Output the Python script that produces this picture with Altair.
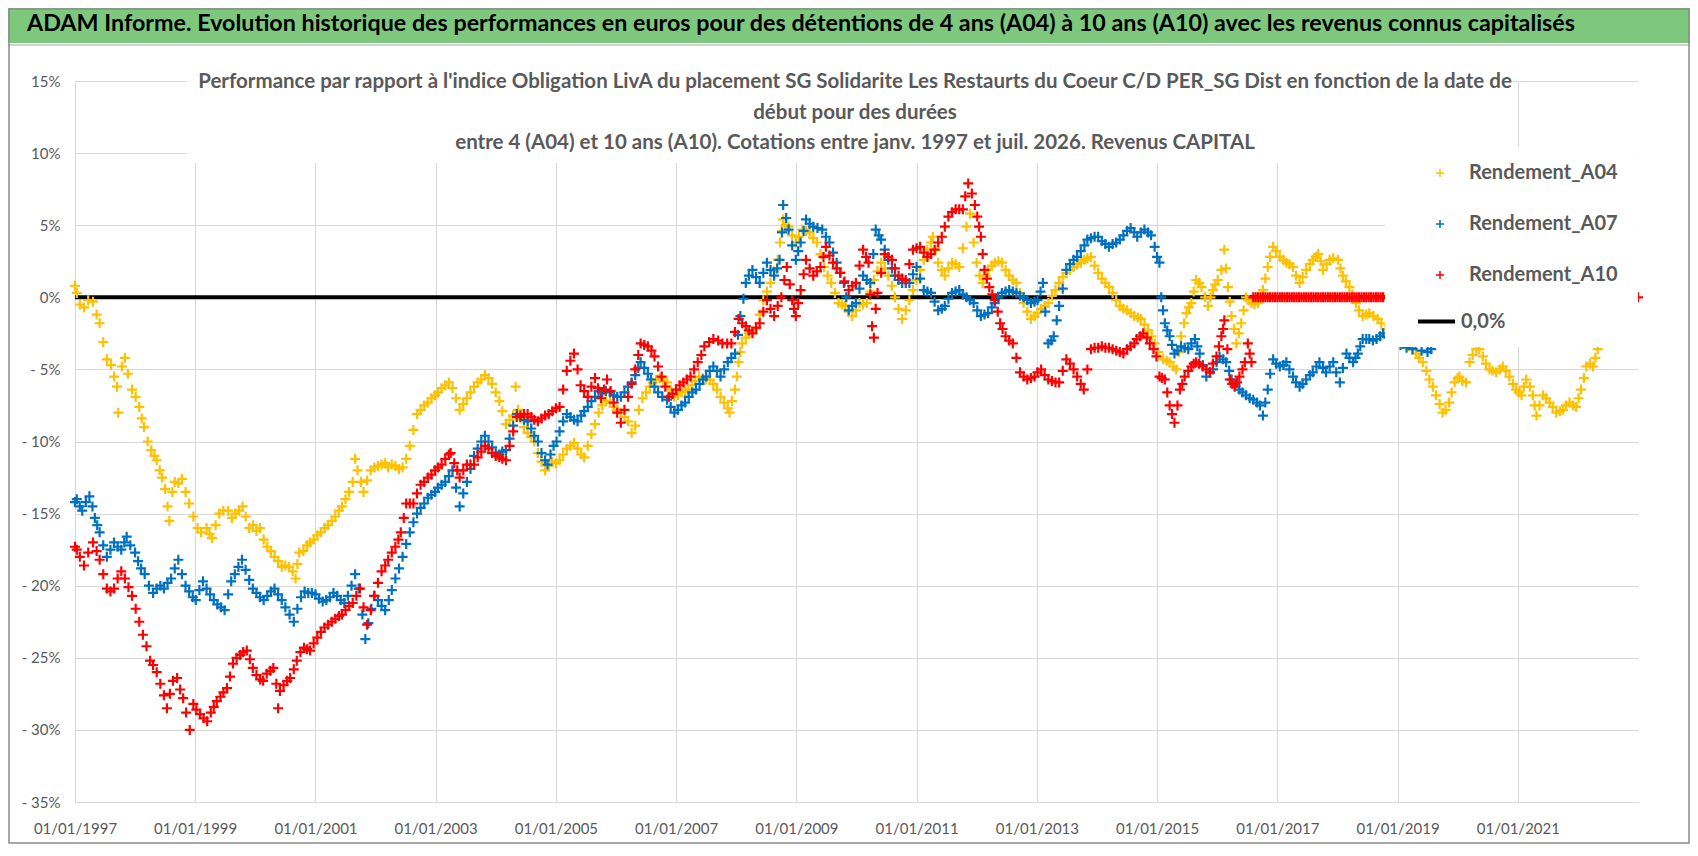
import altair as alt
import pandas as pd

FONT = "Lato"
GREY = "#595959"
GRID = "#D9D9D9"
PLUS = "M-1,0H1M0,-1V1"

banner_text = ("ADAM Informe. Evolution historique des performances en euros pour des détentions "
               "de 4 ans (A04) à 10 ans (A10) avec les revenus connus capitalisés")
chart_title = [
    "Performance par rapport à l'indice Obligation LivA  du placement SG Solidarite Les Restaurts du Coeur C/D PER_SG Dist en fonction de la date de",
    "début pour des durées",
    "entre 4 (A04) et 10 ans (A10). Cotations entre janv. 1997 et juil. 2026. Revenus  CAPITAL",
]

series_names = ["Rendement_A04", "Rendement_A07", "Rendement_A10"]
series_colors = ["#FFC000", "#0070C0", "#FF0000"]
zero_name = "0,0%"

x_tick_years = [1997, 1999, 2001, 2003, 2005, 2007, 2009, 2011, 2013, 2015, 2017, 2019, 2021]
y_ticks = [-35, -30, -25, -20, -15, -10, -5, 0, 5, 10, 15]

# (decimal year, performance in %)
a04 = [
    (1997.00, 0.8), (1997.03, 0.3), (1997.08, -0.5), (1997.15, -0.7), (1997.22, -0.2), (1997.30, -0.3), (1997.36, -1.2), (1997.41, -1.8), (1997.47, -3.1), (1997.53, -4.3), (1997.60, -4.7), (1997.65, -5.5), (1997.70, -6.2), (1997.72, -8.0), (1997.78, -4.8), (1997.83, -4.2), (1997.88, -5.3), (1997.95, -6.4),
    (1998.01, -6.9), (1998.07, -7.6), (1998.11, -8.4), (1998.15, -9.0), (1998.21, -10.0), (1998.27, -10.6), (1998.32, -11.0), (1998.36, -11.3), (1998.41, -12.0), (1998.45, -12.5), (1998.50, -13.3), (1998.54, -14.5), (1998.57, -15.5), (1998.62, -13.5), (1998.66, -12.8), (1998.72, -12.9), (1998.78, -12.6), (1998.84, -13.5), (1998.90, -14.3), (1998.97, -15.2),
    (1999.04, -16.0), (1999.10, -16.3), (1999.19, -16.0), (1999.24, -16.4), (1999.28, -16.7), (1999.34, -15.8), (1999.40, -15.0), (1999.47, -14.8), (1999.55, -14.8), (1999.61, -15.3), (1999.67, -15.0), (1999.73, -14.8), (1999.79, -14.5), (1999.84, -15.2), (1999.90, -16.0), (1999.96, -15.8),
    (2000.02, -16.2), (2000.08, -16.0), (2000.14, -16.8), (2000.20, -17.3), (2000.26, -17.6), (2000.32, -18.0), (2000.38, -18.3), (2000.44, -18.7), (2000.50, -18.6), (2000.56, -18.7), (2000.62, -19.0), (2000.67, -19.5), (2000.70, -18.5), (2000.73, -17.7), (2000.80, -17.6), (2000.86, -17.2), (2000.91, -17.0), (2000.97, -16.8),
    (2001.03, -16.5), (2001.09, -16.3), (2001.15, -16.0), (2001.21, -15.8), (2001.27, -15.5), (2001.33, -15.2), (2001.39, -14.8), (2001.44, -14.5), (2001.50, -14.0), (2001.56, -13.5), (2001.62, -12.8), (2001.66, -11.2), (2001.70, -12.0), (2001.76, -12.8), (2001.80, -13.5), (2001.86, -12.7), (2001.92, -12.0), (2001.98, -11.8),
    (2002.04, -11.7), (2002.10, -11.6), (2002.16, -11.5), (2002.21, -11.8), (2002.27, -11.6), (2002.33, -11.7), (2002.39, -11.9), (2002.45, -11.8), (2002.51, -11.2), (2002.57, -10.3), (2002.63, -9.2), (2002.69, -8.1), (2002.75, -7.8), (2002.81, -7.5), (2002.87, -7.3), (2002.93, -7.0), (2002.99, -6.8),
    (2003.04, -6.6), (2003.10, -6.3), (2003.16, -6.1), (2003.22, -5.9), (2003.28, -6.3), (2003.34, -7.0), (2003.40, -7.8), (2003.46, -7.4), (2003.52, -7.0), (2003.58, -6.6), (2003.64, -6.2), (2003.70, -5.9), (2003.76, -5.7), (2003.82, -5.4), (2003.88, -5.6), (2003.94, -6.0),
    (2004.00, -6.6), (2004.06, -7.2), (2004.11, -7.9), (2004.17, -8.8), (2004.23, -8.5), (2004.29, -8.2), (2004.33, -6.2), (2004.37, -7.8), (2004.41, -8.4), (2004.47, -9.0), (2004.53, -9.4), (2004.59, -9.7), (2004.64, -10.0), (2004.70, -10.8), (2004.76, -11.4), (2004.82, -12.0), (2004.88, -11.7), (2004.94, -11.4),
    (2005.00, -11.5), (2005.06, -11.3), (2005.12, -10.9), (2005.18, -10.5), (2005.24, -10.3), (2005.30, -10.1), (2005.36, -10.5), (2005.42, -10.9), (2005.47, -11.1), (2005.53, -10.3), (2005.59, -9.5), (2005.65, -8.8), (2005.71, -8.0), (2005.77, -7.5), (2005.83, -7.2), (2005.90, -7.3), (2005.96, -7.6),
    (2006.02, -7.8), (2006.08, -8.0), (2006.14, -8.3), (2006.20, -8.6), (2006.26, -9.4), (2006.32, -8.9), (2006.38, -7.8), (2006.44, -7.0), (2006.50, -6.6), (2006.56, -6.2), (2006.61, -5.9), (2006.67, -5.7), (2006.73, -5.6), (2006.79, -5.8), (2006.85, -5.9), (2006.91, -6.4), (2006.97, -6.9),
    (2007.03, -6.8), (2007.09, -6.6), (2007.15, -6.5), (2007.20, -6.4), (2007.26, -6.1), (2007.32, -5.8), (2007.38, -5.5), (2007.44, -5.6), (2007.50, -5.7), (2007.56, -5.7), (2007.62, -6.0), (2007.68, -6.4), (2007.74, -6.9), (2007.80, -7.3), (2007.86, -7.7), (2007.89, -8.0), (2007.93, -7.2), (2007.98, -6.4),
    (2008.01, -5.5), (2008.04, -4.5), (2008.07, -3.8), (2008.10, -3.2), (2008.16, -2.8), (2008.21, -2.5), (2008.27, -2.4), (2008.33, -2.2), (2008.39, -1.2), (2008.45, -0.2), (2008.51, 0.4), (2008.57, 1.0), (2008.63, 1.8), (2008.69, 2.6), (2008.73, 3.8), (2008.76, 4.6), (2008.78, 5.4), (2008.82, 5.0), (2008.87, 4.9), (2008.93, 4.3), (2008.99, 3.8),
    (2009.04, 4.2), (2009.10, 4.7), (2009.16, 4.6), (2009.22, 4.5), (2009.28, 4.1), (2009.34, 3.8), (2009.40, 3.0), (2009.46, 2.1), (2009.52, 1.5), (2009.58, 1.0), (2009.64, 0.3), (2009.70, -0.4), (2009.76, -0.5), (2009.81, -0.6), (2009.87, -1.0), (2009.93, -1.3), (2009.99, -0.9),
    (2010.05, -0.4), (2010.11, -0.5), (2010.17, -0.4), (2010.23, 0.4), (2010.29, 1.2), (2010.35, 1.8), (2010.41, 2.4), (2010.47, 2.0), (2010.53, 1.5), (2010.59, 0.8), (2010.64, 0.0), (2010.70, -0.8), (2010.76, -1.5), (2010.82, -0.9), (2010.88, -0.2), (2010.94, 0.5),
    (2011.00, 1.2), (2011.06, 1.9), (2011.12, 2.6), (2011.18, 3.3), (2011.24, 3.8), (2011.27, 4.2), (2011.32, 3.3), (2011.36, 2.4), (2011.42, 1.9), (2011.47, 1.5), (2011.53, 2.0), (2011.59, 2.4), (2011.65, 2.3), (2011.71, 2.1), (2011.77, 3.4), (2011.83, 4.9), (2011.89, 5.8), (2011.95, 3.8),
    (2012.00, 2.4), (2012.05, 1.5), (2012.10, 1.0), (2012.15, 1.5), (2012.19, 1.9), (2012.25, 2.2), (2012.30, 2.4), (2012.36, 2.5), (2012.42, 2.4), (2012.48, 1.9), (2012.54, 1.5), (2012.60, 1.2), (2012.66, 1.0), (2012.72, 0.3), (2012.78, -0.4), (2012.84, -1.0), (2012.90, -1.5), (2012.96, -1.3),
    (2013.01, -1.1), (2013.07, -0.8), (2013.13, -0.6), (2013.19, -0.4), (2013.25, 0.1), (2013.31, 0.5), (2013.37, 1.0), (2013.43, 1.4), (2013.49, 1.7), (2013.55, 1.9), (2013.61, 2.1), (2013.67, 2.3), (2013.73, 2.4), (2013.79, 2.6), (2013.84, 2.7), (2013.90, 2.8), (2013.96, 2.2),
    (2014.02, 1.7), (2014.08, 1.3), (2014.14, 1.0), (2014.20, 0.7), (2014.26, 0.3), (2014.32, -0.2), (2014.38, -0.6), (2014.44, -0.8), (2014.50, -0.9), (2014.56, -1.1), (2014.62, -1.3), (2014.68, -1.4), (2014.73, -1.5), (2014.79, -1.9), (2014.85, -2.3), (2014.91, -2.7), (2014.96, -3.2),
    (2015.02, -3.8), (2015.10, -4.3), (2015.16, -4.4), (2015.21, -4.5), (2015.27, -4.8), (2015.32, -5.0), (2015.36, -3.8), (2015.40, -2.7), (2015.45, -1.8), (2015.49, -1.1), (2015.53, -0.7), (2015.57, -0.4), (2015.61, 0.4), (2015.65, 1.2), (2015.70, 1.0), (2015.74, 0.7), (2015.80, 0.0), (2015.85, -0.6), (2015.89, 0.0), (2015.93, 0.5), (2015.97, 0.9),
    (2016.01, 1.2), (2016.07, 1.9), (2016.12, 3.3), (2016.15, 2.0), (2016.18, 0.7), (2016.21, -0.3), (2016.24, -1.3), (2016.28, -2.2), (2016.32, -3.2), (2016.36, -2.5), (2016.40, -1.8), (2016.44, -0.9), (2016.48, 0.0), (2016.52, -0.2), (2016.57, -0.4), (2016.62, -0.5), (2016.68, -0.4), (2016.72, 0.0), (2016.76, 0.5), (2016.80, 1.3), (2016.84, 2.1), (2016.88, 2.8), (2016.93, 3.5), (2016.98, 3.2),
    (2017.04, 2.8), (2017.10, 2.6), (2017.15, 2.4), (2017.20, 2.3), (2017.26, 2.1), (2017.31, 1.5), (2017.37, 1.0), (2017.42, 1.4), (2017.48, 1.9), (2017.54, 2.3), (2017.59, 2.6), (2017.64, 2.8), (2017.68, 3.0), (2017.72, 2.5), (2017.76, 1.9), (2017.82, 2.3), (2017.87, 2.6), (2017.93, 2.7),
    (2018.01, 2.6), (2018.05, 2.0), (2018.09, 1.5), (2018.14, 1.1), (2018.20, 0.7), (2018.25, 0.2), (2018.31, -0.4), (2018.36, -0.9), (2018.42, -1.3), (2018.48, -1.2), (2018.53, -1.1), (2018.60, -1.3), (2018.67, -1.5), (2018.73, -1.8), (2018.80, -2.2), (2018.90, -2.6),
    (2019.00, -2.9), (2019.10, -3.2), (2019.18, -3.4), (2019.25, -3.6), (2019.31, -3.9), (2019.36, -4.2), (2019.42, -4.5), (2019.48, -5.1), (2019.53, -5.7), (2019.59, -6.2), (2019.64, -6.8), (2019.70, -7.4), (2019.75, -8.0), (2019.80, -7.8), (2019.86, -7.3), (2019.90, -6.6), (2019.95, -5.9),
    (2020.00, -5.6), (2020.03, -5.5), (2020.08, -5.8), (2020.14, -5.9), (2020.20, -4.5), (2020.25, -4.0), (2020.31, -3.6), (2020.36, -3.6), (2020.42, -4.1), (2020.47, -4.6), (2020.53, -5.0), (2020.58, -5.1), (2020.64, -5.2), (2020.70, -5.0), (2020.75, -4.8), (2020.80, -5.1), (2020.86, -5.5), (2020.92, -6.0), (2020.97, -6.4),
    (2021.02, -6.6), (2021.06, -6.8), (2021.10, -6.2), (2021.14, -5.7), (2021.20, -6.2), (2021.25, -6.8), (2021.28, -7.5), (2021.31, -8.2), (2021.36, -7.5), (2021.42, -6.8), (2021.47, -7.0), (2021.53, -7.3), (2021.58, -7.6), (2021.64, -8.0), (2021.70, -7.9), (2021.75, -7.8), (2021.80, -7.5), (2021.86, -7.3), (2021.92, -7.5), (2021.97, -7.6),
    (2022.01, -7.0), (2022.05, -6.4), (2022.10, -5.6), (2022.14, -4.8), (2022.20, -4.6), (2022.25, -4.8), (2022.29, -4.2), (2022.33, -3.6),
]

a07 = [
    (1997.00, -14.2), (1997.03, -14.0), (1997.08, -14.5), (1997.12, -14.8), (1997.18, -14.2), (1997.24, -13.8), (1997.29, -14.5), (1997.33, -15.3), (1997.37, -15.8), (1997.41, -16.3), (1997.47, -17.2), (1997.53, -18.0), (1997.59, -17.5), (1997.65, -17.0), (1997.71, -17.3), (1997.77, -17.5), (1997.82, -17.0), (1997.86, -16.6), (1997.92, -17.2),
    (1998.00, -17.7), (1998.05, -18.3), (1998.10, -18.8), (1998.16, -19.2), (1998.23, -20.0), (1998.30, -20.5), (1998.36, -20.2), (1998.42, -20.0), (1998.48, -20.2), (1998.54, -19.8), (1998.60, -19.5), (1998.66, -18.8), (1998.72, -18.2), (1998.78, -19.2), (1998.84, -20.0), (1998.90, -20.4), (1998.96, -20.8),
    (1999.01, -21.0), (1999.07, -20.3), (1999.13, -19.7), (1999.19, -20.2), (1999.25, -20.6), (1999.31, -21.0), (1999.37, -21.3), (1999.43, -21.5), (1999.49, -21.7), (1999.55, -20.6), (1999.60, -19.7), (1999.66, -19.2), (1999.72, -18.7), (1999.78, -18.2), (1999.84, -18.9), (1999.90, -19.6), (1999.96, -20.2),
    (2000.02, -20.5), (2000.08, -20.8), (2000.14, -21.0), (2000.20, -20.7), (2000.26, -20.4), (2000.32, -20.2), (2000.38, -20.6), (2000.44, -21.0), (2000.50, -21.5), (2000.57, -22.0), (2000.64, -22.5), (2000.70, -21.6), (2000.76, -20.8), (2000.82, -20.4), (2000.88, -20.5), (2000.94, -20.5),
    (2001.00, -20.6), (2001.06, -20.9), (2001.12, -21.1), (2001.18, -21.0), (2001.24, -20.8), (2001.30, -20.5), (2001.36, -20.7), (2001.42, -21.0), (2001.48, -21.2), (2001.54, -20.7), (2001.60, -20.0), (2001.66, -19.2), (2001.72, -20.2), (2001.78, -22.0), (2001.83, -23.7), (2001.88, -22.6), (2001.93, -21.6), (2001.98, -20.7),
    (2002.04, -21.0), (2002.10, -21.4), (2002.16, -21.7), (2002.22, -21.0), (2002.27, -20.3), (2002.33, -19.5), (2002.39, -18.8), (2002.45, -18.0), (2002.51, -17.1), (2002.57, -16.3), (2002.63, -15.6), (2002.69, -15.0), (2002.75, -14.6), (2002.81, -14.3), (2002.87, -13.9), (2002.93, -13.7), (2002.99, -13.5),
    (2003.04, -13.2), (2003.10, -13.0), (2003.16, -12.8), (2003.22, -12.4), (2003.28, -12.0), (2003.34, -13.2), (2003.40, -14.5), (2003.46, -13.6), (2003.52, -12.8), (2003.58, -11.9), (2003.64, -11.0), (2003.70, -10.5), (2003.76, -10.0), (2003.82, -9.6), (2003.88, -10.0), (2003.94, -10.4),
    (2004.00, -10.8), (2004.06, -10.9), (2004.11, -10.7), (2004.17, -10.6), (2004.23, -9.8), (2004.29, -8.9), (2004.35, -8.1), (2004.41, -8.3), (2004.47, -8.5), (2004.53, -8.6), (2004.59, -9.1), (2004.64, -9.6), (2004.70, -10.0), (2004.76, -10.8), (2004.82, -11.3), (2004.86, -11.6), (2004.91, -10.9), (2004.96, -10.3),
    (2005.01, -10.0), (2005.06, -9.3), (2005.12, -8.6), (2005.18, -8.1), (2005.24, -8.3), (2005.30, -8.5), (2005.36, -8.6), (2005.42, -8.2), (2005.47, -7.9), (2005.53, -7.6), (2005.59, -7.2), (2005.65, -6.9), (2005.71, -6.5), (2005.77, -6.6), (2005.83, -6.5), (2005.90, -6.6), (2005.96, -6.8),
    (2006.02, -6.9), (2006.08, -6.9), (2006.14, -6.6), (2006.20, -6.2), (2006.26, -5.9), (2006.32, -5.4), (2006.37, -4.9), (2006.41, -4.5), (2006.47, -4.9), (2006.53, -5.3), (2006.58, -5.7), (2006.64, -6.2), (2006.70, -6.6), (2006.77, -6.9), (2006.85, -7.1), (2006.91, -7.6), (2006.97, -8.0),
    (2007.03, -7.8), (2007.09, -7.5), (2007.15, -7.3), (2007.21, -6.9), (2007.27, -6.6), (2007.33, -6.4), (2007.39, -6.0), (2007.45, -5.7), (2007.50, -5.5), (2007.56, -5.1), (2007.62, -4.8), (2007.68, -5.1), (2007.74, -5.5), (2007.80, -5.0), (2007.86, -4.5), (2007.92, -4.2), (2007.98, -3.9),
    (2008.03, -2.6), (2008.07, -1.3), (2008.12, -0.1), (2008.16, 1.0), (2008.21, 1.5), (2008.27, 1.9), (2008.33, 1.4), (2008.39, 1.0), (2008.45, 1.7), (2008.51, 2.4), (2008.57, 1.9), (2008.63, 1.5), (2008.68, 2.0), (2008.72, 2.6), (2008.76, 4.5), (2008.78, 6.4), (2008.83, 5.5), (2008.87, 4.7), (2008.93, 3.6), (2008.99, 2.6),
    (2009.03, 3.2), (2009.07, 3.8), (2009.12, 4.6), (2009.16, 5.4), (2009.22, 5.1), (2009.28, 4.9), (2009.35, 4.8), (2009.43, 4.7), (2009.49, 4.2), (2009.55, 3.8), (2009.61, 3.1), (2009.67, 2.4), (2009.73, 1.7), (2009.79, 1.0), (2009.83, 0.0), (2009.87, -0.9), (2009.93, -0.6), (2009.99, -0.4),
    (2010.05, 0.6), (2010.11, 1.5), (2010.17, 1.2), (2010.23, 1.0), (2010.28, 3.0), (2010.32, 4.7), (2010.37, 4.3), (2010.41, 4.0), (2010.47, 3.3), (2010.53, 2.6), (2010.59, 2.0), (2010.64, 1.5), (2010.70, 1.2), (2010.76, 1.0), (2010.82, 1.0), (2010.88, 1.0), (2010.94, 1.6),
    (2011.00, 2.1), (2011.06, 1.3), (2011.12, 0.5), (2011.18, 0.4), (2011.24, 0.3), (2011.30, -0.3), (2011.36, -0.9), (2011.42, -0.8), (2011.47, -0.6), (2011.53, -0.1), (2011.59, 0.3), (2011.65, 0.4), (2011.71, 0.5), (2011.77, 0.2), (2011.83, 0.0), (2011.89, -0.2), (2011.95, -0.4),
    (2012.01, -0.9), (2012.07, -1.3), (2012.13, -1.2), (2012.19, -1.1), (2012.25, -0.7), (2012.30, -0.4), (2012.36, 0.0), (2012.42, 0.3), (2012.48, 0.4), (2012.54, 0.5), (2012.60, 0.4), (2012.66, 0.3), (2012.72, 0.1), (2012.78, 0.0), (2012.84, -0.2), (2012.90, -0.4), (2012.96, -0.3),
    (2013.01, -0.2), (2013.06, 0.4), (2013.10, 1.0), (2013.14, -1.0), (2013.19, -3.2), (2013.24, -3.0), (2013.28, -2.7), (2013.33, -1.6), (2013.37, -0.6), (2013.43, 0.6), (2013.49, 1.9), (2013.55, 2.3), (2013.61, 2.6), (2013.67, 2.8), (2013.73, 3.2), (2013.79, 3.6), (2013.84, 4.0), (2013.90, 4.1), (2013.96, 4.2),
    (2014.02, 4.2), (2014.08, 3.9), (2014.14, 3.7), (2014.20, 3.5), (2014.26, 3.7), (2014.32, 3.8), (2014.38, 4.0), (2014.44, 4.3), (2014.50, 4.6), (2014.56, 4.8), (2014.62, 4.5), (2014.67, 4.2), (2014.73, 4.5), (2014.79, 4.7), (2014.85, 4.5), (2014.90, 4.3), (2014.96, 3.5),
    (2015.00, 2.8), (2015.04, 2.4), (2015.07, 0.0), (2015.10, -0.9), (2015.13, -1.8), (2015.17, -2.3), (2015.21, -2.7), (2015.25, -3.3), (2015.29, -3.9), (2015.34, -3.7), (2015.40, -3.4), (2015.46, -3.5), (2015.52, -3.6), (2015.57, -3.2), (2015.63, -2.9), (2015.67, -3.4), (2015.71, -3.9), (2015.76, -4.7), (2015.82, -5.5), (2015.88, -5.2), (2015.93, -5.0), (2015.99, -4.5),
    (2016.04, -4.1), (2016.10, -4.3), (2016.15, -4.5), (2016.20, -5.1), (2016.24, -5.7), (2016.30, -6.0), (2016.37, -6.4), (2016.42, -6.6), (2016.48, -6.8), (2016.54, -7.0), (2016.60, -7.1), (2016.66, -7.3), (2016.71, -7.5), (2016.76, -8.2), (2016.80, -7.3), (2016.84, -6.4), (2016.88, -5.3), (2016.93, -4.3), (2016.98, -4.6),
    (2017.04, -4.8), (2017.10, -4.7), (2017.15, -4.5), (2017.20, -5.0), (2017.26, -5.5), (2017.31, -5.9), (2017.37, -6.2), (2017.42, -6.0), (2017.48, -5.7), (2017.54, -5.4), (2017.59, -5.2), (2017.65, -4.8), (2017.70, -4.5), (2017.76, -4.9), (2017.81, -5.2), (2017.87, -4.8), (2017.93, -4.5), (2017.98, -5.2),
    (2018.04, -5.9), (2018.09, -4.9), (2018.15, -3.9), (2018.20, -4.2), (2018.26, -4.5), (2018.30, -4.2), (2018.34, -3.9), (2018.38, -3.4), (2018.42, -2.9), (2018.48, -2.9), (2018.53, -2.9), (2018.59, -3.0), (2018.65, -2.9), (2018.71, -2.7), (2018.76, -2.5), (2018.85, -2.8), (2018.95, -3.1),
    (2019.05, -3.3), (2019.15, -3.5), (2019.25, -3.6), (2019.30, -3.3), (2019.40, -3.7), (2019.50, -3.8), (2019.56, -3.6),
]

a10 = [
    (1997.00, -17.3), (1997.03, -17.5), (1997.08, -18.0), (1997.15, -18.6), (1997.22, -17.7), (1997.30, -17.0), (1997.36, -17.6), (1997.41, -18.2), (1997.47, -19.2), (1997.53, -20.2), (1997.59, -20.4), (1997.65, -20.2), (1997.71, -19.5), (1997.77, -19.0), (1997.83, -19.5), (1997.89, -20.1), (1997.95, -20.7),
    (1998.01, -21.6), (1998.07, -22.5), (1998.13, -23.4), (1998.19, -24.2), (1998.25, -25.2), (1998.30, -25.5), (1998.36, -26.0), (1998.42, -26.8), (1998.48, -27.6), (1998.53, -28.5), (1998.58, -27.5), (1998.63, -26.6), (1998.70, -26.4), (1998.75, -27.2), (1998.80, -27.8), (1998.85, -28.8), (1998.91, -30.0), (1998.97, -28.2),
    (1999.02, -28.6), (1999.08, -28.9), (1999.14, -29.2), (1999.20, -29.4), (1999.26, -28.8), (1999.31, -28.4), (1999.36, -28.0), (1999.42, -27.7), (1999.47, -27.4), (1999.53, -27.1), (1999.58, -26.3), (1999.63, -25.4), (1999.69, -25.0), (1999.75, -24.8), (1999.80, -24.6), (1999.86, -24.5), (1999.91, -25.1), (1999.96, -25.7),
    (2000.02, -26.2), (2000.08, -26.5), (2000.13, -26.6), (2000.19, -26.1), (2000.25, -25.9), (2000.30, -25.7), (2000.35, -26.8), (2000.38, -28.5), (2000.41, -27.3), (2000.47, -26.9), (2000.53, -26.6), (2000.58, -26.4), (2000.64, -25.8), (2000.69, -25.2), (2000.75, -24.6), (2000.81, -24.3), (2000.86, -24.4), (2000.91, -24.5), (2000.97, -24.0),
    (2001.03, -23.6), (2001.09, -23.2), (2001.15, -22.9), (2001.21, -22.7), (2001.27, -22.5), (2001.33, -22.3), (2001.39, -22.1), (2001.44, -22.0), (2001.50, -21.7), (2001.56, -21.4), (2001.62, -21.2), (2001.68, -20.7), (2001.74, -20.2), (2001.80, -21.5), (2001.86, -22.7), (2001.92, -21.7), (2001.98, -20.7),
    (2002.04, -19.8), (2002.10, -19.0), (2002.16, -18.6), (2002.21, -18.2), (2002.27, -17.7), (2002.33, -17.3), (2002.38, -16.8), (2002.42, -16.3), (2002.47, -15.3), (2002.51, -14.3), (2002.57, -14.3), (2002.63, -14.3), (2002.69, -13.6), (2002.75, -13.0), (2002.81, -12.8), (2002.87, -12.5), (2002.93, -12.3), (2002.99, -12.0),
    (2003.04, -11.8), (2003.10, -11.6), (2003.16, -11.2), (2003.22, -10.9), (2003.25, -10.8), (2003.31, -11.5), (2003.36, -12.0), (2003.40, -12.5), (2003.46, -12.0), (2003.52, -11.6), (2003.58, -11.6), (2003.64, -11.6), (2003.70, -11.1), (2003.76, -10.7), (2003.82, -10.3), (2003.88, -10.5), (2003.94, -10.8),
    (2004.00, -11.0), (2004.06, -11.1), (2004.11, -11.2), (2004.17, -11.3), (2004.23, -10.3), (2004.29, -9.3), (2004.35, -8.3), (2004.41, -8.2), (2004.47, -8.1), (2004.53, -8.1), (2004.59, -8.3), (2004.64, -8.5), (2004.70, -8.6), (2004.76, -8.4), (2004.82, -8.2), (2004.88, -8.1), (2004.94, -7.9),
    (2005.00, -7.7), (2005.06, -7.6), (2005.12, -6.4), (2005.18, -5.1), (2005.24, -4.4), (2005.30, -3.9), (2005.36, -5.0), (2005.41, -6.1), (2005.47, -6.5), (2005.53, -6.9), (2005.59, -6.2), (2005.65, -5.6), (2005.70, -6.3), (2005.75, -7.0), (2005.80, -6.4), (2005.85, -5.7), (2005.91, -6.5), (2005.96, -7.3),
    (2006.02, -8.0), (2006.08, -8.7), (2006.14, -7.8), (2006.20, -6.9), (2006.26, -6.0), (2006.32, -5.0), (2006.37, -4.0), (2006.41, -3.2), (2006.47, -3.3), (2006.53, -3.4), (2006.59, -3.7), (2006.64, -4.1), (2006.70, -4.8), (2006.76, -5.5), (2006.82, -6.2), (2006.88, -6.9), (2006.94, -6.7),
    (2007.00, -6.4), (2007.06, -6.1), (2007.12, -5.9), (2007.18, -5.7), (2007.24, -5.5), (2007.30, -5.0), (2007.36, -4.5), (2007.42, -4.0), (2007.47, -3.4), (2007.55, -3.1), (2007.62, -2.9), (2007.70, -3.0), (2007.77, -3.2), (2007.85, -3.2), (2007.92, -3.2), (2007.98, -2.4),
    (2008.04, -1.5), (2008.10, -1.8), (2008.16, -2.0), (2008.21, -2.3), (2008.27, -2.5), (2008.33, -2.1), (2008.39, -1.8), (2008.45, -1.0), (2008.51, -0.2), (2008.57, -0.8), (2008.63, -1.3), (2008.69, -0.6), (2008.75, 0.0), (2008.80, 1.2), (2008.84, 2.1), (2008.89, 0.9), (2008.93, -0.2), (2008.96, -0.8), (2008.99, -1.3),
    (2009.03, -0.4), (2009.07, 0.5), (2009.12, 1.6), (2009.16, 2.6), (2009.22, 2.0), (2009.28, 1.5), (2009.34, 1.8), (2009.40, 2.1), (2009.45, 2.8), (2009.49, 3.5), (2009.55, 2.9), (2009.61, 2.4), (2009.67, 2.0), (2009.73, 1.7), (2009.80, 1.1), (2009.87, 0.5), (2009.93, 0.8), (2009.99, 1.0),
    (2010.05, 2.2), (2010.11, 3.3), (2010.16, 2.8), (2010.20, 2.4), (2010.23, 0.2), (2010.26, -2.0), (2010.29, -2.8), (2010.32, -0.8), (2010.35, 0.3), (2010.41, 1.7), (2010.47, 3.0), (2010.53, 2.8), (2010.59, 2.6), (2010.64, 2.0), (2010.70, 1.5), (2010.76, 1.3), (2010.82, 1.2), (2010.88, 2.3), (2010.94, 3.3),
    (2011.00, 3.4), (2011.06, 3.5), (2011.12, 3.1), (2011.18, 2.8), (2011.24, 3.0), (2011.30, 3.3), (2011.36, 3.8), (2011.42, 4.2), (2011.47, 4.9), (2011.53, 5.6), (2011.59, 5.9), (2011.65, 6.1), (2011.71, 6.1), (2011.77, 6.1), (2011.81, 7.0), (2011.86, 7.9), (2011.92, 7.2), (2011.97, 6.4),
    (2012.01, 5.6), (2012.04, 4.9), (2012.07, 4.2), (2012.10, 3.0), (2012.13, 1.9), (2012.17, 1.3), (2012.21, 0.7), (2012.26, 0.2), (2012.30, -0.2), (2012.35, -1.0), (2012.39, -1.8), (2012.43, -2.2), (2012.48, -2.7), (2012.54, -3.0), (2012.60, -3.2), (2012.66, -4.2), (2012.72, -5.2), (2012.78, -5.5), (2012.84, -5.7), (2012.90, -5.6), (2012.96, -5.5),
    (2013.01, -5.2), (2013.07, -5.0), (2013.13, -5.4), (2013.19, -5.7), (2013.25, -5.8), (2013.31, -5.9), (2013.37, -5.9), (2013.43, -5.1), (2013.49, -4.3), (2013.55, -4.6), (2013.61, -5.0), (2013.67, -5.5), (2013.73, -6.0), (2013.78, -6.4), (2013.84, -5.0), (2013.90, -3.6), (2013.96, -3.5),
    (2014.02, -3.5), (2014.08, -3.4), (2014.14, -3.5), (2014.20, -3.5), (2014.26, -3.6), (2014.32, -3.7), (2014.38, -3.8), (2014.44, -3.9), (2014.50, -3.6), (2014.56, -3.4), (2014.62, -3.2), (2014.66, -2.9), (2014.72, -2.7), (2014.77, -2.5), (2014.83, -2.8), (2014.88, -3.2), (2014.94, -3.6), (2014.99, -4.1),
    (2015.04, -5.5), (2015.08, -5.6), (2015.13, -5.7), (2015.17, -6.6), (2015.21, -7.5), (2015.25, -8.1), (2015.29, -8.7), (2015.34, -7.5), (2015.38, -6.4), (2015.42, -6.0), (2015.46, -5.5), (2015.52, -5.1), (2015.57, -4.8), (2015.61, -4.6), (2015.65, -4.5), (2015.70, -4.6), (2015.76, -4.8), (2015.82, -5.0), (2015.88, -5.2), (2015.93, -4.6), (2015.99, -4.1),
    (2016.03, -3.4), (2016.07, -2.7), (2016.10, -2.2), (2016.12, -1.6), (2016.17, -3.6), (2016.21, -5.7), (2016.25, -6.0), (2016.29, -6.2), (2016.33, -5.9), (2016.37, -5.5), (2016.42, -5.0), (2016.46, -4.5), (2016.51, -3.2), (2016.54, -3.9), (2016.57, -4.5),
    (2016.60, 0.0), (2016.64, 0.0), (2016.68, 0.0), (2016.72, 0.0), (2016.76, 0.0), (2016.80, 0.0), (2016.84, 0.0), (2016.88, 0.0), (2016.92, 0.0), (2016.96, 0.0),
    (2017.00, 0.0), (2017.04, 0.0), (2017.08, 0.0), (2017.12, 0.0), (2017.16, 0.0), (2017.20, 0.0), (2017.24, 0.0), (2017.28, 0.0), (2017.32, 0.0), (2017.36, 0.0), (2017.40, 0.0), (2017.44, 0.0), (2017.48, 0.0),
    (2017.52, 0.0), (2017.56, 0.0), (2017.60, 0.0), (2017.64, 0.0), (2017.68, 0.0), (2017.72, 0.0), (2017.76, 0.0), (2017.80, 0.0), (2017.84, 0.0), (2017.88, 0.0), (2017.92, 0.0), (2017.96, 0.0),
    (2018.00, 0.0), (2018.04, 0.0), (2018.08, 0.0), (2018.12, 0.0), (2018.16, 0.0), (2018.20, 0.0), (2018.24, 0.0), (2018.28, 0.0), (2018.32, 0.0), (2018.36, 0.0), (2018.40, 0.0), (2018.44, 0.0), (2018.48, 0.0),
    (2018.52, 0.0), (2018.56, 0.0), (2018.60, 0.0), (2018.64, 0.0), (2018.68, 0.0), (2018.72, 0.0), (2018.76, 0.0),
    (2023.00, 0.0),
]

zero_line = [(1997.00, 0.0), (2023.00, 0.0)]


def to_iso(y):
    year = int(y)
    start = pd.Timestamp(year, 1, 1)
    span = pd.Timestamp(year + 1, 1, 1) - start
    return (start + span * (y - year)).strftime("%Y-%m-%dT%H:%M:%SZ")


rows = []
for name, pairs in zip(series_names, [a04, a07, a10]):
    for y, v in pairs:
        rows.append({"date": to_iso(y), "value": v, "serie": name})
points_df = pd.DataFrame(rows)
zero_df = pd.DataFrame([{"date": to_iso(y), "value": v, "serie": zero_name} for y, v in zero_line])

W, H = 1563, 721

x_scale = alt.Scale(type="utc", domain=[alt.DateTime(year=1997, month=1, date=1, utc=True),
                                        alt.DateTime(year=2023, month=1, date=1, utc=True)])
y_scale = alt.Scale(domain=[-35, 15], nice=False, zero=False)

x_axis = alt.Axis(values=[alt.DateTime(year=y, month=1, date=1, utc=True) for y in x_tick_years],
                  format="%d/%m/%Y", labelFont=FONT, labelFontSize=15, labelColor=GREY,
                  labelPadding=19, ticks=False, tickSize=0, labelFlush=False, labelOverlap=False,
                  domainColor=GRID, domainWidth=1.2, gridColor=GRID, gridWidth=1.2, title=None)
y_axis = alt.Axis(values=y_ticks,
                  labelExpr="datum.value < 0 ? '- ' + (-datum.value) + '%' : datum.value + '%'",
                  labelFont=FONT, labelFontSize=15, labelColor=GREY, labelPadding=15,
                  ticks=False, tickSize=0, domain=False, labelOverlap=False,
                  gridColor=GRID, gridWidth=1.2, title=None)

zero_layer = alt.Chart(zero_df).mark_line(strokeWidth=4).encode(
    x=alt.X("date:T", scale=x_scale, axis=x_axis),
    y=alt.Y("value:Q", scale=y_scale, axis=y_axis),
    stroke=alt.Stroke("serie:N", scale=alt.Scale(domain=[zero_name], range=["#000000"]),
                      legend=alt.Legend(title=None, orient="none", legendX=1341, legendY=220,
                                        symbolType="stroke", symbolSize=1369, symbolStrokeWidth=4,
                                        labelFont=FONT, labelFontSize=20, labelFontWeight="bold",
                                        labelColor=GREY, labelOffset=4, zindex=1)),
)

points_layer = alt.Chart(points_df).mark_point(shape=PLUS, filled=False, size=100, strokeWidth=2.2, opacity=1).encode(
    x=alt.X("date:T", scale=x_scale, axis=x_axis),
    y=alt.Y("value:Q", scale=y_scale, axis=y_axis),
    color=alt.Color("serie:N", scale=alt.Scale(domain=series_names, range=series_colors),
                    legend=alt.Legend(title=None, orient="none", legendX=1355, legendY=82,
                                      symbolType=PLUS, symbolSize=64, symbolStrokeWidth=1.5,
                                      labelFont=FONT, labelFontSize=20, labelFontWeight="bold",
                                      labelColor=GREY, labelOffset=19, rowPadding=31, zindex=1)),
)

one = alt.Data(values=[{"k": 1}])

# white boxes behind the chart title and the legend (they hide the gridlines / points like in Excel)
title_box = alt.Chart(one).mark_rect(color="white").encode(
    x=alt.value(112), x2=alt.value(1430), y=alt.value(0), y2=alt.value(82))
legend_box = alt.Chart(one).mark_rect(color="white").encode(
    x=alt.value(1310), x2=alt.value(W), y=alt.value(66), y2=alt.value(266))

# green banner, its underline and the outer frame
banner = alt.Chart(one).mark_rect(color="#7EC87E").encode(
    x=alt.value(-67), x2=alt.value(1615), y=alt.value(-73), y2=alt.value(-38))
banner_rule = alt.Chart(one).mark_rule(color="#D0D0D0", strokeWidth=2).encode(
    x=alt.value(-67), x2=alt.value(1615), y=alt.value(-36))
frame = alt.Chart(one).mark_rect(fillOpacity=0, stroke="#8C8C8C", strokeWidth=1.5).encode(
    x=alt.value(-66), x2=alt.value(1614), y=alt.value(-72), y2=alt.value(762))

banner_label = alt.Chart(one).mark_text(
    text=banner_text, font=FONT, fontSize=23.3, fontWeight="bold", color="#000000",
    align="left", baseline="middle").encode(x=alt.value(-48), y=alt.value(-57))

title_label = alt.Chart(one).mark_text(
    text="\n".join(chart_title), lineBreak="\n", lineHeight=30.5, font=FONT, fontSize=20.5,
    fontWeight="bold", color=GREY, align="center", baseline="middle").encode(
    x=alt.value(780), y=alt.value(1))

chart = alt.layer(
    zero_layer, points_layer, title_box, legend_box, banner, banner_rule, frame, banner_label, title_label
).resolve_legend(color="independent", stroke="independent").properties(
    width=W, height=H,
    autosize=alt.AutoSizeParams(type="none"),
    padding={"left": 67, "top": 73, "right": 52, "bottom": 42},
    background="white",
).configure_view(strokeWidth=0)

chart.save("out.html", embed_options={"renderer": "svg", "actions": False})
